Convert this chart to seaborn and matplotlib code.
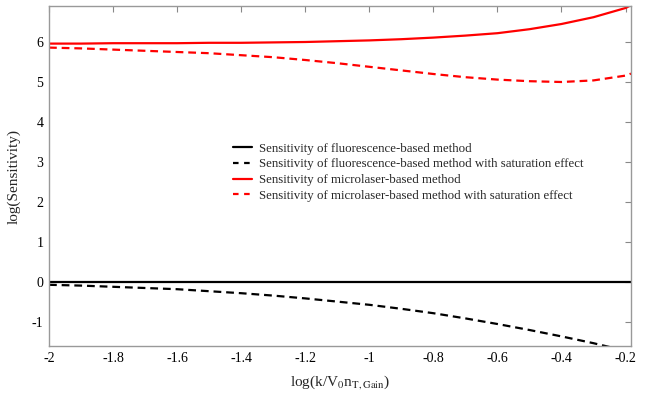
import matplotlib
matplotlib.use("Agg")
import matplotlib.pyplot as plt
import seaborn as sns
import pandas as pd
from matplotlib.ticker import FuncFormatter, MultipleLocator

# values
x = [-2.0, -1.9, -1.8, -1.7, -1.6, -1.5, -1.4, -1.3, -1.2, -1.1, -1.0,
     -0.9, -0.8, -0.7, -0.6, -0.5, -0.4, -0.3, -0.2, -0.183]
fluo = [0.0] * len(x)
fluo_sat = [-0.07, -0.09, -0.12, -0.15, -0.18, -0.23, -0.28, -0.34, -0.41, -0.49,
            -0.57, -0.67, -0.78, -0.91, -1.05, -1.20, -1.36, -1.53, -1.72, -1.75]
laser = [5.96, 5.96, 5.97, 5.97, 5.97, 5.98, 5.98, 5.99, 6.00, 6.02,
         6.04, 6.07, 6.11, 6.16, 6.22, 6.32, 6.45, 6.62, 6.85, 6.92]
laser_sat = [5.86, 5.84, 5.81, 5.78, 5.75, 5.72, 5.67, 5.62, 5.55, 5.47,
             5.38, 5.29, 5.20, 5.12, 5.06, 5.02, 5.00, 5.04, 5.16, 5.21]

labels = ["Sensitivity of fluorescence-based method",
          "Sensitivity of fluorescence-based method with saturation effect",
          "Sensitivity of microlaser-based method",
          "Sensitivity of microlaser-based method with saturation effect"]

sns.set_style("white")
plt.rcParams["font.family"] = ["Liberation Serif", "DejaVu Serif"]
plt.rcParams["mathtext.fontset"] = "stix"
plt.rcParams["axes.unicode_minus"] = False

fig = plt.figure(figsize=(6.6, 3.97), dpi=100)
ax = fig.add_axes([49 / 660, 1 - 346 / 397, 582 / 660, 340 / 397])

series = [(fluo, "black", "-"), (fluo_sat, "black", "--"),
          (laser, "red", "-"), (laser_sat, "red", "--")]
for (vals, col, ls), lab in zip(series, labels):
    df = pd.DataFrame({"x": x, "y": vals})
    sns.lineplot(data=df, x="x", y="y", ax=ax, color=col, linestyle=ls,
                 linewidth=1.6, label=lab)
for ln in ax.lines:
    if ln.get_linestyle() == "--":
        ln.set_dashes((3.5, 2.2))

ax.set_xlim(-2, -0.183)
ax.set_ylim(-1.6, 6.9)
ax.xaxis.set_major_locator(MultipleLocator(0.2))
ax.yaxis.set_major_locator(MultipleLocator(1))
ax.xaxis.set_major_formatter(FuncFormatter(lambda v, p: "%g" % round(v, 2)))
ax.yaxis.set_major_formatter(FuncFormatter(lambda v, p: "%g" % round(v, 2)))
ax.tick_params(direction="in", length=4, width=0.8, colors="#888888",
               labelcolor="black", labelsize=10, top=True, right=True, pad=4)
for s in ax.spines.values():
    s.set_color("#999999")
    s.set_linewidth(1.0)

ax.set_xlabel(r"log(k/V$_0$n$_{\mathrm{T,Gain}}$)", fontsize=11, labelpad=6)
ax.set_ylabel("log(Sensitivity)", fontsize=11, labelpad=8)

leg = ax.legend(loc="upper left", bbox_to_anchor=(0.317, 0.598), frameon=False,
                fontsize=9.3, handlelength=1.4, handletextpad=0.6,
                labelspacing=0.28, borderpad=0, borderaxespad=0)
for h in leg.get_lines():
    if h.get_linestyle() == "--":
        h.set_dashes((2.5, 2.5))

fig.savefig("out.png", dpi=100)
